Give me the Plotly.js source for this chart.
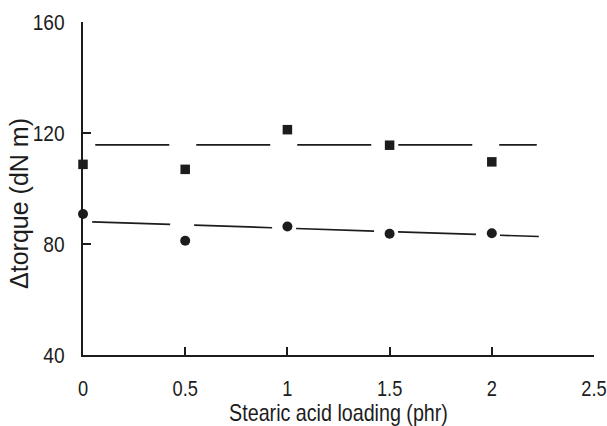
<!DOCTYPE html>
<html>
<head>
<meta charset="utf-8">
<script src="https://cdn.plot.ly/plotly-3.0.1.min.js"></script>
<style>html,body{margin:0;padding:0;background:#fff;}#chart{width:607px;height:426px;}</style>
</head>
<body>
<div id="chart"></div>
<script>
var loading = [0, 0.5, 1, 1.5, 2];
var squareTorque = [108.7, 106.9, 121.2, 115.6, 109.6];
var circleTorque = [90.8, 81.2, 86.3, 83.7, 83.9];
var squareTrendX = [0.06, 2.22];
var squareTrendY = [115.7, 115.7];
var circleTrendX = [0.045, 2.23];
var circleTrendY = [88.0, 82.7];
var xTickVals = [0, 0.5, 1, 1.5, 2, 2.5];
var xTickText = ['0', '0.5', '1', '1.5', '2', '2.5'];
var yTickVals = [40, 80, 120, 160];

var ink = '#1c1c1c';
var sans = '"Liberation Sans", Arial, sans-serif';

var traces = [
  {x: squareTrendX, y: squareTrendY, mode: 'lines', line: {color: ink, width: 1.7, dash: '74px,27px'}, hoverinfo: 'skip', cliponaxis: false},
  {x: circleTrendX, y: circleTrendY, mode: 'lines', line: {color: ink, width: 1.7, dash: '78px,24px'}, hoverinfo: 'skip', cliponaxis: false},
  {x: loading, y: squareTorque, mode: 'markers', marker: {symbol: 'square', size: 9.5, color: ink}, cliponaxis: false},
  {x: loading, y: circleTorque, mode: 'markers', marker: {symbol: 'circle', size: 10, color: ink}, cliponaxis: false}
];

var layout = {
  width: 607, height: 426,
  margin: {l: 83, r: 13, t: 22, b: 71},
  paper_bgcolor: '#fff', plot_bgcolor: '#fff',
  showlegend: false,
  font: {family: sans, color: ink, size: 22},
  xaxis: {
    range: [0, 2.5], tickvals: xTickVals, ticktext: xTickText,
    showgrid: false, zeroline: false,
    showline: true, linecolor: ink, linewidth: 2,
    ticks: 'inside', ticklen: 8, tickwidth: 2, tickcolor: ink,
    ticklabelstandoff: 13, ticklabeloverflow: 'allow',
    tickfont: {family: sans, size: 22, color: ink},
    title: {text: 'Stearic acid loading (phr)', font: {family: sans, size: 24, color: ink}, standoff: 15}
  },
  yaxis: {
    range: [40, 160], tickvals: yTickVals,
    showgrid: false, zeroline: false,
    showline: true, linecolor: ink, linewidth: 2,
    ticks: 'inside', ticklen: 8, tickwidth: 2, tickcolor: ink,
    ticklabelstandoff: 12, ticklabeloverflow: 'allow',
    tickfont: {family: sans, size: 22, color: ink},
    title: {text: 'Δtorque (dN m)', font: {family: sans, size: 25, color: ink}, standoff: 0}
  }
};

function squeeze(selector, factor) {
  document.querySelectorAll(selector).forEach(function (t) {
    var w = t.getComputedTextLength();
    if (w > 0) {
      t.setAttribute('textLength', (w * factor).toFixed(2));
      t.setAttribute('lengthAdjust', 'spacingAndGlyphs');
    }
  });
}

Plotly.newPlot('chart', traces, layout, {displayModeBar: false, staticPlot: true}).then(function () {
  squeeze('g.xtick text', 0.83);
  squeeze('g.ytick text', 0.87);
  squeeze('.g-xtitle text', 0.82);
  var yt = document.querySelector('.g-ytitle');
  if (yt) yt.setAttribute('transform', 'translate(8,15)');
});
</script>
</body>
</html>
